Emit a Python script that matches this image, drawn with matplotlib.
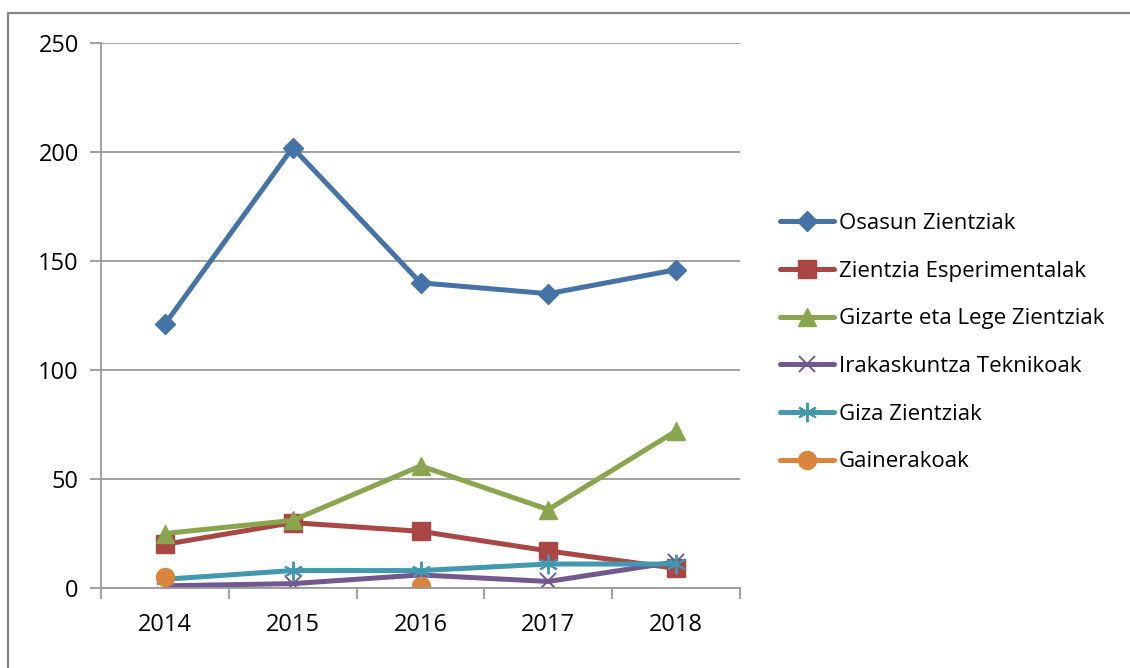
import matplotlib
matplotlib.use("Agg")
import matplotlib.pyplot as plt
import numpy as np
from matplotlib.patches import Rectangle

years = ["2014", "2015", "2016", "2017", "2018"]
osasun = [121, 202, 140, 135, 146]
zientzia = [20, 30, 26, 17, 9]
gizarte = [25, 31, 56, 36, 72]
irakaskuntza = [1, 2, 6, 3, 12]
giza = [4, 8, 8, 11, 11]
gainerakoak = [5, np.nan, 1, np.nan, np.nan]

names = ["Osasun Zientziak", "Zientzia Esperimentalak", "Gizarte eta Lege Zientziak",
         "Irakaskuntza Teknikoak", "Giza Zientziak", "Gainerakoak"]
series = [osasun, zientzia, gizarte, irakaskuntza, giza, gainerakoak]
colors = ["#4572A7", "#AA4643", "#89A54E", "#71588F", "#4198AF", "#DB843D"]
markers = ["D", "s", "^", "x", "*", "o"]
msizes = [10, 13, 13, 12, 14, 13]

plt.rcParams['font.family'] = ['Open Sans', 'DejaVu Sans']

fig = plt.figure(figsize=(11.3, 6.68), dpi=100)
fig.patches.append(Rectangle((8/1130, -0.1), 1.2, 1 - 13/668 + 0.1, transform=fig.transFigure,
                             fill=False, edgecolor="#868686", linewidth=1.6))
ax = fig.add_axes([101/1130, 1 - 588/668, (740-101)/1130, (588-43)/668])

x = np.arange(len(years))
for vals, name, c, m, ms in zip(series, names, colors, markers, msizes):
    if m == "*":
        mk = (6, 2, 0)
    else:
        mk = m
    if mk in ("x",) or m == "*":
        ax.plot(x, vals, color=c, linewidth=3.6, marker=mk, markersize=ms,
                markeredgewidth=1.4, label=name, solid_capstyle="round")
    else:
        ax.plot(x, vals, color=c, linewidth=3.6, marker=mk, markersize=ms,
                markeredgecolor=c, label=name, solid_capstyle="round")

ax.set_xlim(-0.5, 4.5)
ax.set_ylim(0, 250)
ax.set_yticks([0, 50, 100, 150, 200, 250])
ax.yaxis.grid(True, color="#9A9A9A", linewidth=1.3)
ax.set_axisbelow(True)
ax.set_xticks(x)
ax.set_xticklabels(years)
ax.set_xticks(np.arange(-0.5, 5, 1), minor=True)
ax.tick_params(axis="x", which="major", length=0, pad=18, labelsize=17)
ax.tick_params(axis="x", which="minor", length=8, width=1.3, color="#9A9A9A")
ax.tick_params(axis="y", length=8, width=1.3, color="#9A9A9A", labelsize=17, pad=8)
for s in ["top", "right"]:
    ax.spines[s].set_visible(False)
for s in ["left", "bottom"]:
    ax.spines[s].set_color("#9A9A9A")
    ax.spines[s].set_linewidth(1.3)

leg = ax.legend(loc="upper left", bbox_to_anchor=(760/1130, 1 - 193/668),
                bbox_transform=fig.transFigure, frameon=False, fontsize=16,
                handlelength=2.45, handletextpad=0.2, labelspacing=1.2)
fig.savefig("out.png", dpi=100)
